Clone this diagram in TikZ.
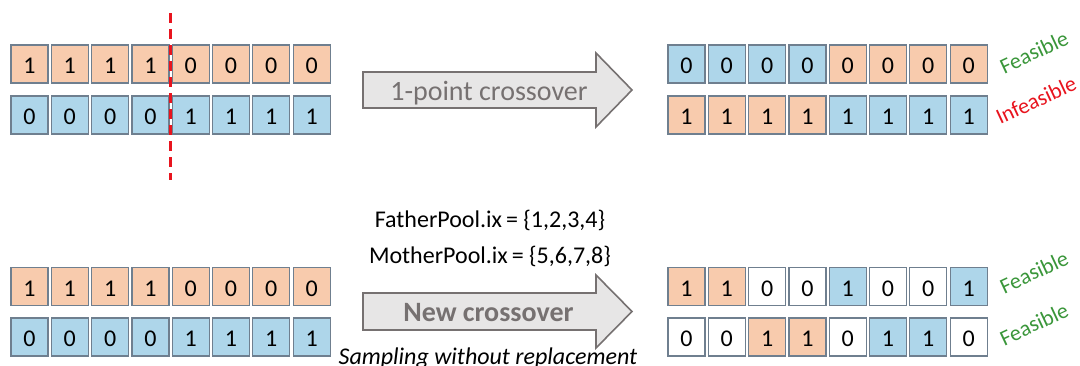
\documentclass[tikz,border=0pt]{standalone}
\usepackage{fontspec}
\setmainfont{Carlito}
\definecolor{peach}{HTML}{F8CBAD}
\definecolor{sky}{HTML}{AED6EA}
\definecolor{cellline}{HTML}{6F7F8F}
\definecolor{arrfill}{HTML}{E7E6E6}
\definecolor{arrline}{HTML}{767171}
\definecolor{okgreen}{HTML}{3A963A}
\definecolor{badred}{HTML}{E8141E}
\tikzset{
  cell/.style={draw=cellline, line width=1.2pt, minimum width=37pt, minimum height=38pt,
    inner sep=0pt, text height=19pt, text depth=0pt,
    font=\fontsize{24}{28}\selectfont},
  org/.style={fill=peach},
  blu/.style={fill=sky},
  wht/.style={fill=white},
  blockarrow/.style={fill=arrfill, draw=arrline, line width=1.6pt, line join=miter},
  arrtext/.style={text=arrline, font=\fontsize{28}{32}\selectfont, anchor=base, inner sep=0pt},
  pooltext/.style={font=\fontsize{24}{28}\selectfont, anchor=base, inner sep=0pt},
  verdict/.style={rotate=25, font=\fontsize{22}{26}\selectfont, inner sep=0pt},
  cutline/.style={draw=badred, line width=2.6pt, dash pattern=on 10pt off 6pt}
}
\newcommand{\cellrow}[4]{%
  \foreach \s/\v [count=\i] in {#4} {
    \node[cell,\s] (#1-\i) at ({#2+40.3*(\i-1)}, #3) {\v};
  }%
}
\begin{document}
\begin{tikzpicture}[x=1pt,y=-1pt]
\useasboundingbox (0,0) rectangle (1080,365);
% top-left parents
\cellrow{pa}{29.5}{64}{org/1,org/1,org/1,org/1,org/0,org/0,org/0,org/0}
\cellrow{pb}{29.5}{115}{blu/0,blu/0,blu/0,blu/0,blu/1,blu/1,blu/1,blu/1}
% cut line
\coordinate (cuttop) at (170.5,13);
\coordinate (cutbot) at (170.5,180);
\draw[cutline] (cuttop) -- (cutbot);
% top arrow
\draw[blockarrow] (363,72) -- (596,72) -- (596,53) -- (632,90) -- (596,127) -- (596,108) -- (363,108) -- cycle;
\node[arrtext] (lbl1) at (489,100) {1-point crossover};
% top-right children
\cellrow{ca}{686.5}{64}{blu/0,blu/0,blu/0,blu/0,org/0,org/0,org/0,org/0}
\cellrow{cb}{686.5}{115}{org/1,org/1,org/1,org/1,blu/1,blu/1,blu/1,blu/1}
\node[verdict, text=okgreen] (v1) at (1034,52) {Feasible};
\node[verdict, text=badred] (v2) at (1036,100) {Infeasible};
% pools
\node[pooltext] (fp) at (490,227) {FatherPool.ix\,= \{1,2,3,4\}};
\node[pooltext] (mp) at (490,263) {MotherPool.ix\,= \{5,6,7,8\}};
% bottom-left parents
\cellrow{qa}{29.5}{286.5}{org/1,org/1,org/1,org/1,org/0,org/0,org/0,org/0}
\cellrow{qb}{29.5}{337}{blu/0,blu/0,blu/0,blu/0,blu/1,blu/1,blu/1,blu/1}
% bottom arrow
\draw[blockarrow] (363,293) -- (596,293) -- (596,275) -- (632,311.5) -- (596,348) -- (596,330) -- (363,330) -- cycle;
\node[arrtext, font=\fontsize{28}{32}\selectfont\bfseries] (lbl2) at (488.5,321) {New crossover};
\node[pooltext, font=\fontsize{24}{28}\selectfont\itshape] (samp) at (488,364) {Sampling without replacement};
% bottom-right children
\cellrow{da}{686.5}{286.5}{org/1,org/1,wht/0,wht/0,blu/1,wht/0,wht/0,blu/1}
\cellrow{db}{686.5}{337}{wht/0,wht/0,org/1,org/1,wht/0,blu/1,blu/1,wht/0}
\node[verdict, text=okgreen] (v3) at (1034,272) {Feasible};
\node[verdict, text=okgreen] (v4) at (1034,324) {Feasible};
\end{tikzpicture}
\end{document}
